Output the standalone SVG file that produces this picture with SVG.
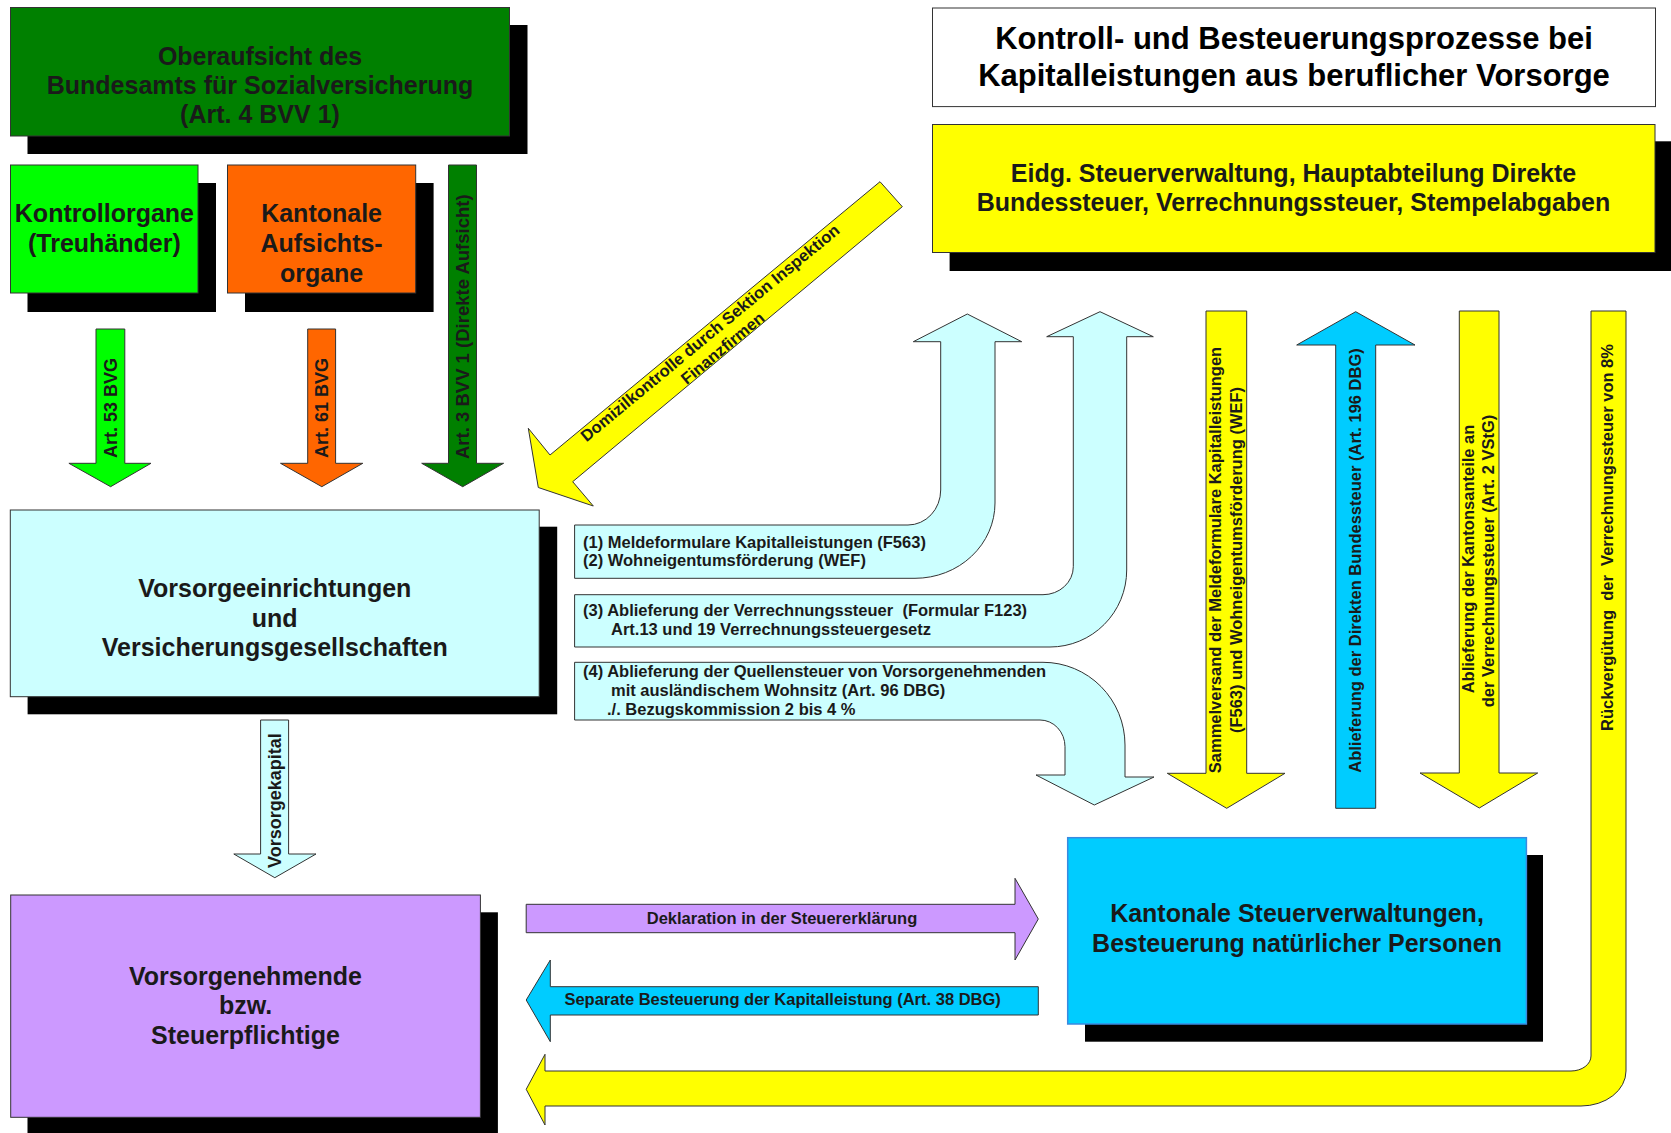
<svg xmlns="http://www.w3.org/2000/svg" width="1671" height="1133" viewBox="0 0 1671 1133">
<style>
 .sh{fill:#000}
 .bx{stroke:#333;stroke-width:1}
 .ar{stroke:#333;stroke-width:1;stroke-linejoin:miter}
 text{font-family:"Liberation Sans",Arial,sans-serif;font-weight:bold;fill:#1a1a1a}
 .big{font-size:25px;text-anchor:middle}
 .title{font-size:31px;text-anchor:middle;fill:#000}
 .lbl{font-size:16.5px}
 .c{text-anchor:middle}
 .v18{font-size:18px}
 .dg{fill:#008000}.lg{fill:#00FF00}.or{fill:#FF6600}.cy{fill:#CCFFFF}.ye{fill:#FFFF00}.bl{fill:#00CCFF}.pu{fill:#CC99FF}
</style>
<rect width="1671" height="1133" fill="#fff"/>

<g id="oberaufsicht">
 <rect class="sh" x="27.5" y="25" width="500" height="129"/>
 <rect class="bx dg" x="10.5" y="7.5" width="499" height="128.5"/>
 <text class="big" x="260" y="65">Oberaufsicht des</text>
 <text class="big" x="260" y="94">Bundesamts für Sozialversicherung</text>
 <text class="big" x="260" y="123">(Art. 4 BVV 1)</text>
</g>

<g id="kontrollorgane">
 <rect class="sh" x="27.5" y="183" width="188.5" height="129"/>
 <rect class="bx lg" x="10.5" y="165" width="187.5" height="128"/>
 <text class="big" x="104.4" y="222">Kontrollorgane</text>
 <text class="big" x="104.4" y="252">(Treuhänder)</text>
</g>

<g id="kantonale-aufsicht">
 <rect class="sh" x="245" y="183" width="188.6" height="129"/>
 <rect class="bx or" x="227.5" y="165" width="188.2" height="128"/>
 <text class="big" x="321.6" y="222">Kantonale</text>
 <text class="big" x="321.6" y="252">Aufsichts-</text>
 <text class="big" x="321.6" y="282">organe</text>
</g>

<g id="vorsorgeeinrichtungen">
 <rect class="sh" x="27.6" y="526.7" width="529.6" height="187.6"/>
 <rect class="bx cy" x="10.3" y="510" width="528.9" height="186.7"/>
 <text class="big" x="274.75" y="597">Vorsorgeeinrichtungen</text>
 <text class="big" x="274.75" y="626.5">und</text>
 <text class="big" x="274.75" y="656">Versicherungsgesellschaften</text>
</g>

<g id="vorsorgenehmende">
 <rect class="sh" x="27.5" y="912.3" width="470.4" height="230"/>
 <rect class="bx pu" x="10.7" y="895" width="469.7" height="222.3"/>
 <text class="big" x="245.5" y="985">Vorsorgenehmende</text>
 <text class="big" x="245.5" y="1014">bzw.</text>
 <text class="big" x="245.5" y="1044">Steuerpflichtige</text>
</g>

<g id="titel">
 <rect class="bx" fill="#fff" x="932.5" y="8" width="723" height="98.6"/>
 <text class="title" x="1294" y="48.5">Kontroll- und Besteuerungsprozesse bei</text>
 <text class="title" x="1294" y="85.5">Kapitalleistungen aus beruflicher Vorsorge</text>
</g>

<g id="estv">
 <rect class="sh" x="949.6" y="141.3" width="730" height="129.7"/>
 <rect class="bx ye" x="932.5" y="124.5" width="722.5" height="128"/>
 <text class="big" x="1293.5" y="182">Eidg. Steuerverwaltung, Hauptabteilung Direkte</text>
 <text class="big" x="1293.5" y="211">Bundessteuer, Verrechnungssteuer, Stempelabgaben</text>
</g>

<g id="kantonale-steuerverwaltungen">
 <rect class="sh" x="1085" y="855" width="458" height="186.7"/>
 <rect class="bl" stroke="#3a8ae0" stroke-width="1.5" x="1067.7" y="837.7" width="458.7" height="186.3"/>
 <text class="big" x="1297" y="922">Kantonale Steuerverwaltungen,</text>
 <text class="big" x="1297" y="952">Besteuerung natürlicher Personen</text>
</g>

<g id="connectors">
 <polygon class="ar lg" points="96,329 124.8,329 124.8,463.3 151,463.3 110.6,486.7 68.9,463.3 96,463.3"/>
 <text class="v18" transform="rotate(-90 117 458)" x="117" y="458">Art. 53 BVG</text>

 <polygon class="ar or" points="307.7,329 335.6,329 335.6,463.3 362.8,463.3 321.8,486.7 280.5,463.3 307.7,463.3"/>
 <text class="v18" transform="rotate(-90 328 458)" x="328" y="458">Art. 61 BVG</text>

 <polygon class="ar dg" points="448.5,165 476.5,165 476.5,463.3 503.6,463.3 462.7,486.7 421.7,463.3 448.5,463.3"/>
 <text style="font-size:18.5px" transform="rotate(-90 469 459)" x="469" y="459">Art. 3 BVV 1 (Direkte Aufsicht)</text>

 <polygon class="ar cy" points="260.6,720 288.6,720 288.6,854 316,854 274.8,877.7 233.8,854 260.6,854"/>
 <text class="v18" transform="rotate(-90 281 868)" x="281" y="868">Vorsorgekapital</text>

 <polygon class="ar ye" points="880,181.7 902.3,206.7 572.7,481.7 593.3,506 538.3,487.5 528.3,428.3 550,455"/>
 <text class="lbl c" transform="rotate(-39.6 713.6 337.3)" x="713.6" y="337.3">Domizilkontrolle durch Sektion Inspektion</text>
 <text class="lbl c" transform="rotate(-39.6 726.2 352.5)" x="726.2" y="352.5">Finanzfirmen</text>

 <path class="ar cy" d="M574.6,525 H908 A32.7,35 0 0 0 940.7,490 V341.7 H913.3 L967.3,314 L1021.7,341.7 H995 V503 A80,75.3 0 0 1 915,578.3 H574.6 Z"/>
 <text class="lbl" x="583" y="547.5">(1) Meldeformulare Kapitalleistungen (F563)</text>
 <text class="lbl" x="583" y="566">(2) Wohneigentumsförderung (WEF)</text>

 <path class="ar cy" d="M574.6,594.7 H1043 A30.3,28 0 0 0 1073.3,566.7 V336.7 H1046.7 L1100,311.7 L1153.3,336.7 H1126.7 V570 A76.7,77 0 0 1 1050,647 H574.6 Z"/>
 <text class="lbl" x="583" y="615.5" xml:space="preserve">(3) Ablieferung der Verrechnungssteuer  (Formular F123)</text>
 <text class="lbl" x="611" y="634.5">Art.13 und 19 Verrechnungssteuergesetz</text>

 <path class="ar cy" d="M574.6,662.3 H1043 A82,82.7 0 0 1 1125,745 V777 H1154 L1094.3,805 L1036,775 H1065 V746.7 A25,26.7 0 0 0 1040,720 H574.6 Z"/>
 <text class="lbl" x="583" y="676.5">(4) Ablieferung der Quellensteuer von Vorsorgenehmenden</text>
 <text class="lbl" x="611" y="695.5">mit ausländischem Wohnsitz (Art. 96 DBG)</text>
 <text class="lbl" x="607" y="714.5">./. Bezugskommission 2 bis 4 %</text>

 <polygon class="ar ye" points="1206,311 1246.7,311 1246.7,773.3 1285,773.3 1226.7,808.3 1167.3,773.3 1206,773.3"/>
 <text class="lbl c" transform="rotate(-90 1221 560)" x="1221" y="560">Sammelversand der Meldeformulare Kapitalleistungen</text>
 <text class="lbl c" transform="rotate(-90 1242 560)" x="1242" y="560">(F563) und Wohneigentumsförderung (WEF)</text>

 <polygon class="ar bl" points="1355.7,311.7 1415,345 1375.7,345 1375.7,808.3 1335.7,808.3 1335.7,345 1296.7,345"/>
 <text class="lbl c" transform="rotate(-90 1361 560.5)" x="1361" y="560.5">Ablieferung der Direkten Bundessteuer (Art. 196 DBG)</text>

 <polygon class="ar ye" points="1459.3,311 1499,311 1499,773 1537.7,773 1479.3,808 1420,773 1459.3,773"/>
 <text class="lbl c" transform="rotate(-90 1474 559)" x="1474" y="559">Ablieferung der Kantonsanteile an</text>
 <text class="lbl c" transform="rotate(-90 1494 561)" x="1494" y="561">der Verrechnungssteuer (Art. 2 VStG)</text>

 <path class="ar ye" d="M1591,311 H1626 V1071 A45,35 0 0 1 1581,1106 H545 V1125 L526.2,1089.3 L545,1054.3 V1071 H1571 A20,15 0 0 0 1591,1056 Z"/>
 <text class="lbl c" xml:space="preserve" transform="rotate(-90 1613 537.5)" x="1613" y="537.5">Rückvergütung  der  Verrechnungssteuer von 8%</text>

 <polygon class="ar pu" points="526.2,904.3 1015,904.3 1015,878.3 1038.3,919 1015,960 1015,932.7 526.2,932.7"/>
 <text class="lbl c" x="782" y="923.5">Deklaration in der Steuererklärung</text>

 <polygon class="ar bl" points="1038.3,986.7 550.3,986.7 550.3,960 526.2,1000 550.3,1041.7 550.3,1015 1038.3,1015"/>
 <text class="lbl c" x="782.6" y="1005">Separate Besteuerung der Kapitalleistung (Art. 38 DBG)</text>
</g>
</svg>
